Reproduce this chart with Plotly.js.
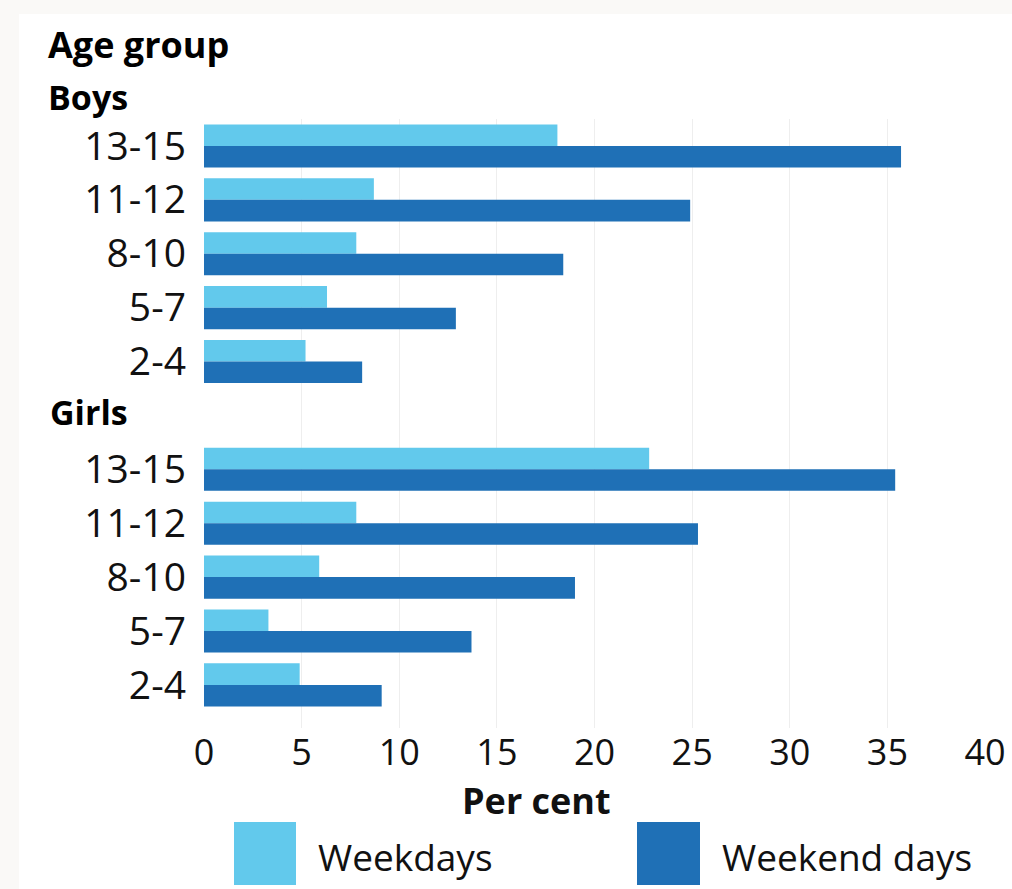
<!DOCTYPE html>
<html>
<head>
<meta charset="utf-8">
<script src="https://cdn.plot.ly/plotly-3.0.1.min.js"></script>
<style>
  html, body { margin: 0; padding: 0; background: #faf9f7; }
  #chart { position: absolute; left: 0; top: 0; width: 1012px; height: 889px; }
</style>
</head>
<body>
<div id="chart"></div>
<script>
// ---- data ----
const ageGroups = ["13-15", "11-12", "8-10", "5-7", "2-4"];
const boysWeekdays = [18.1, 8.7, 7.8, 6.3, 5.2];
const boysWeekend = [35.7, 24.9, 18.4, 12.9, 8.1];
const girlsWeekdays = [22.8, 7.8, 5.9, 3.3, 4.9];
const girlsWeekend = [35.4, 25.3, 19.0, 13.7, 9.1];
const seriesNames = ["Weekdays", "Weekend days"];
const groupNames = ["Boys", "Girls"];
const xTicks = [0, 5, 10, 15, 20, 25, 30, 35, 40];

const colLight = "#62c9ec";
const colDark = "#1f70b6";

// boys rows at 0..4, blank row for "Girls" heading, girls rows after
const boysPos = ageGroups.map((_, i) => i);
const girlsPos = ageGroups.map((_, i) => i + ageGroups.length + 1);
const yPos = boysPos.concat(girlsPos);
const yText = ageGroups.concat(ageGroups);

const traces = [
  { type: "bar", orientation: "h", name: seriesNames[0],
    x: boysWeekdays.concat(girlsWeekdays), y: yPos,
    marker: { color: colLight }, hoverinfo: "x+name" },
  { type: "bar", orientation: "h", name: seriesNames[1],
    x: boysWeekend.concat(girlsWeekend), y: yPos,
    marker: { color: colDark }, hoverinfo: "x+name" }
];

const W = 1012, H = 889;
const mL = 204, mR = 27, mT = 119, mB = 161;
const pw = W - mL - mR, ph = H - mT - mB;
const px = v => (v - mL) / pw;
const py = v => (H - mB - v) / ph;

const FAM = "Open Sans, sans-serif";
const reg = { family: FAM, size: 37, color: "#111" };

const layout = {
  width: W, height: H,
  margin: { l: mL, r: mR, t: mT, b: mB, pad: 0 },
  paper_bgcolor: "rgba(0,0,0,0)",
  plot_bgcolor: "#ffffff",
  barmode: "group", bargap: 0.2, bargroupgap: 0,
  showlegend: false,
  xaxis: {
    range: [0, 40], autorange: false, tickvals: xTicks,
    showgrid: true, gridcolor: "#eeeeee", gridwidth: 1,
    zeroline: false, showline: false, ticks: "",
    tickfont: { family: FAM, size: 36, color: "#111" },
    fixedrange: true
  },
  yaxis: {
    range: [10.8, -0.5], autorange: false,
    tickvals: yPos, ticktext: yText,
    showgrid: false, zeroline: false, showline: false, ticks: "",
    ticklabelstandoff: 17,
    tickfont: { family: FAM, size: 39, color: "#111" },
    fixedrange: true
  },
  shapes: [
    { type: "rect", xref: "paper", yref: "paper", layer: "below",
      x0: px(19), x1: px(1012), y0: py(889), y1: py(14),
      fillcolor: "#ffffff", line: { width: 0 } },
    { type: "rect", xref: "paper", yref: "paper",
      x0: px(234), x1: px(296), y0: py(885), y1: py(822),
      fillcolor: colLight, line: { width: 0 } },
    { type: "rect", xref: "paper", yref: "paper",
      x0: px(637), x1: px(700), y0: py(885), y1: py(822),
      fillcolor: colDark, line: { width: 0 } }
  ],
  annotations: [
    { text: "<b>Age group</b>", xref: "paper", yref: "paper", x: px(46), y: py(45),
      xanchor: "left", yanchor: "middle", showarrow: false,
      font: { family: FAM, size: 36, color: "#000" } },
    { text: "<b>" + groupNames[0] + "</b>", xref: "paper", yref: "paper", x: px(46), y: py(97),
      xanchor: "left", yanchor: "middle", showarrow: false,
      font: { family: FAM, size: 34, color: "#000" } },
    { text: "<b>" + groupNames[1] + "</b>", xref: "paper", yref: "paper", x: px(48), y: py(412),
      xanchor: "left", yanchor: "middle", showarrow: false,
      font: { family: FAM, size: 34, color: "#000" } },
    { text: "<b>Per cent</b>", xref: "paper", yref: "paper", x: px(536), y: py(800),
      xanchor: "center", yanchor: "middle", showarrow: false,
      font: { family: FAM, size: 36, color: "#111" } },
    { text: seriesNames[0], xref: "paper", yref: "paper", x: px(316), y: py(856),
      xanchor: "left", yanchor: "middle", showarrow: false, font: reg },
    { text: seriesNames[1], xref: "paper", yref: "paper", x: px(720), y: py(856),
      xanchor: "left", yanchor: "middle", showarrow: false, font: reg }
  ]
};

Plotly.newPlot("chart", traces, layout, { displayModeBar: false, staticPlot: true });
</script>
</body>
</html>
